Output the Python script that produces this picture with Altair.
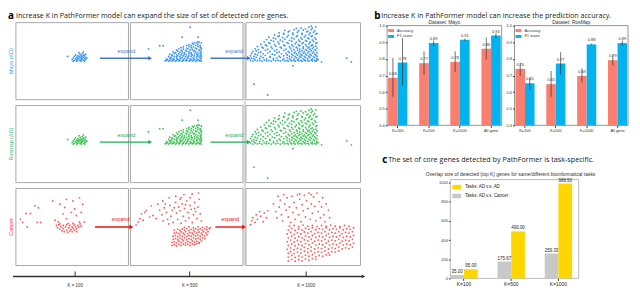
import altair as alt
import pandas as pd

# ---------------- panel a : scatter clouds (panel-local units, 0-100) ----------------
MAYO_K100 = ("50,52 51,54 52,51 52,56 53,53 53,58 54,52 54,55 55,51 55,54 55,57 56,53 56,56 57,51 "
             "57,55 57,59 58,52 58,54 58,57 59,53 59,56 59,60 60,51 60,55 60,58 61,53 61,57 62,52 "
             "62,55 62,59 63,54 51,50 54,50 58,50 61,50 46,56 56,61 60,62")
MAYO_K500 = ("31,50.5 32,51 34,50 35,51 37,50.5 38,51 40,50 41,51 43,50.5 44,51 46,50 47,51 49,50.5 50,51 "
             "52,50 53,51 55,50.5 56,51 58,50 59,51 61,50.5 62,51 63,50 "
             "32,53 33,52 35,54 36,52.5 38,53.5 39,52 41,54 42,52.5 44,53 45,54 47,52 48,53.5 50,52.5 51,54 "
             "53,53 54,52 56,53.5 57,52.5 59,54 60,52 62,53 63,54 "
             "34,56 36,55 37,57 39,56 41,55.5 42,57 44,56 46,55 47,57 49,56 51,55.5 52,57 54,56 56,55 57,57 "
             "59,56 61,55.5 62,57 63,56 "
             "35,59 37,58 39,60 41,58.5 43,59.5 45,58 46,60 48,59 50,58.5 52,60 54,59 55,58 57,60 59,59 60,58 "
             "62,60 63,58.5 "
             "38,62 40,61 42,63 44,61.5 46,62.5 48,61 50,63 52,62 54,61 56,63 58,62 60,61 62,63 63,61.5 "
             "41,64.5 43,66 45,64 47,65.5 49,64 51,66 53,64.5 55,65.5 57,64 59,66 61,64.5 63,65.5 "
             "45,67.5 47,68.5 50,67 52,69 54,67.5 56,68.5 58,67 60,69 62,68 63,67 "
             "50,70.5 52,71.5 54,70 56,72 58,70.5 60,71.5 62,70 "
             "55,73 57,74 59,73.5 61,74.5 63,73.5 60,75 "
             "53,94 46,81 60,81 26,70 29,70 16,66")
MAYO_K1000 = ("4,51 6,50 8,51.5 10,50.5 12,51 14,50 16,51.5 18,50.5 20,51 22,50 24,51.5 26,50.5 28,51 30,50 "
              "32,51.5 34,50.5 36,51 37,50 39,51.5 40,50.5 42,51 43,50 45,51.5 46,50.5 48,51 49,50 51,51.5 "
              "52,50.5 54,51 55,50 57,51.5 58,50.5 60,51 61,50 62,51.5 "
              "5,54 7,53 9,55 12,53.5 15,54.5 18,53 21,55 24,53.5 27,54 30,55 33,53 36,54.5 38,53.5 40,55 "
              "42,53 44,54.5 46,53.5 48,55 50,53 52,54.5 54,53.5 56,55 58,53 60,54.5 62,53.5 "
              "4,57 7,56 10,58 13,56.5 17,57.5 21,56 25,58 29,56.5 33,57 36,58 38,56.5 41,57.5 43,56 45,58 "
              "47,56.5 49,57.5 51,56 53,58 55,56.5 57,57.5 59,56 61,58 62,56.5 "
              "5,60 8,59 11,61 15,59.5 19,60.5 23,59 27,61 31,59.5 35,60 38,61 40,59 42,60.5 44,59.5 46,61 "
              "48,59 50,60.5 52,59.5 54,61 56,59 58,60.5 60,59.5 62,61 "
              "6,62.5 9,63.5 13,62 17,64 21,62.5 25,63.5 29,62 33,64 37,62.5 40,63.5 43,62 45,64 47,62.5 "
              "49,63.5 51,62 53,64 55,62.5 57,63.5 59,62 61,64 "
              "8,66 11,65 15,67 19,65.5 23,66.5 27,65 31,67 35,65.5 39,66.5 42,65 45,67 47,65.5 50,66.5 "
              "52,65 54,67 56,65.5 58,66.5 60,65 62,67 "
              "10,69 14,68 18,70 22,68.5 26,69.5 30,68 34,70 38,68.5 41,69.5 44,68 47,70 50,68.5 53,69.5 "
              "55,68 57,70 59,68.5 61,69.5 "
              "13,72 17,71 21,73 25,71.5 29,72.5 33,71 37,73 40,71.5 43,72.5 46,71 49,73 52,71.5 55,72.5 "
              "58,71 61,73 "
              "16,75 20,74 24,76 28,74.5 32,75.5 36,74 40,76 44,74.5 47,75.5 50,74 53,76 56,74.5 59,75.5 62,74 "
              "18,78 22,77 26,79 30,77.5 34,78.5 38,77 42,79 46,77.5 49,78.5 52,77 55,79 58,77.5 61,78.5 "
              "20,81 24,80 28,82 32,80.5 36,81.5 40,80 44,82 48,80.5 51,81.5 54,80 57,82 60,80.5 "
              "25,84 29,83 33,85 37,83.5 41,84.5 45,83 49,85 52,83.5 55,84.5 58,83 61,85 "
              "29,87 33,86 37,88 41,86.5 45,87.5 49,86 53,88 56,86.5 59,87.5 62,86 "
              "34,90 38,89 42,91 46,89.5 50,90.5 54,89 57,91 60,89.5 "
              "44,92.5 48,93 52,92 55,94 58,93 61,94.5 57,95.5 "
              "7,20 19,6 63,52 66,49 41,44 88,54 92,49")
# the Rosmap row shows the same cloud shapes as the Mayo row
ROSMAP_K100 = MAYO_K100
ROSMAP_K500 = MAYO_K500
ROSMAP_K1000 = MAYO_K1000
CANCER_K100 = ("4,60 6,56 9,67.5 13,67.5 17,77.5 20,75 19,56 22,56 10,50 "
               "32.8,83.8 39.1,79.6 44.9,85.9 50.7,83.8 56.5,87.9 59.4,79.6 43.5,75.4 52.2,73.4 42,67.1 "
               "49.3,69.1 58,69.1 53.7,65 60.9,56.6 56.5,56.6 34.8,58.8 37.7,56.6 44.9,60.9 46.4,54.6 50.7,54.6 "
               "36,52 37,49 38,53 39,47 40,50 41,45 42,52 42,48 43,44 44,50 45,46 45,53 46,43 47,49 48,45 "
               "48,52 49,47 50,44 50,50 51,48 52,53 52,46 53,50 54,48 55,52 56,50 57,54 58,51 54,44 39,54")
CANCER_K500 = ("5,52.5 7,56.6 8.4,60.9 9.9,67.1 12.8,69.1 11.3,58.8 14.2,71.3 17.1,62.9 20,65 22.9,60.9 "
               "18.6,77.5 24.3,79.6 "
               "28.7,83.8 34.5,87.9 40.3,90 47.5,92.1 54.8,92.9 60.6,94.1 31,80 44,86 "
               "26,72 28,66 30,75 32,69 33,60 35,78 36,64 37,72 38,56 40,82 41,68 42,60 43,76 44,71 45,55 "
               "46,80 47,64 48,74 49,58 50,84 51,69 52,62 53,78 54,73 55,56 56,66 57,82 58,70 59,61 60,76 "
               "61,86 62,67 63,58 39,75 45,88 53,88 29,58 34,54 57,74 49,79 "
               "37,26 39,27 41,25.5 43,27.5 45,26 47,28 49,26.5 51,27.5 53,26 55,28 57,27 59,28.5 61,29 "
               "37,30 39,31 41,29.5 43,31.5 45,30 47,32 49,29.5 51,31 53,30 55,32 57,30.5 59,31.5 61,30 63,32 "
               "38,34 40,35 42,33.5 44,35.5 46,34 48,36 50,33.5 52,35 54,34 56,36 58,34.5 60,35.5 62,34 "
               "64,36 66,35 "
               "38,38 40,39 42,37.5 44,39.5 46,38 48,40 50,37.5 52,39 54,38 56,40 58,38.5 60,39.5 62,38 "
               "64,40 66,38.5 68,40 "
               "39,42 41,43 43,41.5 45,43.5 47,42 49,44 51,41.5 53,43 55,42 57,44 59,42.5 61,43.5 63,42 "
               "65,44 67,42.5 69,44 "
               "39,46 42,47 44,45.5 46,47.5 48,46 50,48 52,45.5 54,47 56,46 58,48 60,46.5 62,47.5 64,46 "
               "66,48 68,46.5 70,48 "
               "48,49.5 52,50 56,49 60,50.5 64,49.5 68,50 71,49")
CANCER_K1000 = ("4,53 5,58 6,62 8,56 9,66 10,60 12,70 13,64 15,57 16,68 18,62 19,71 "
                "24,80 26,70 27,62 29,76 30,85 31,66 32,58 34,80 35,72 36,88 37,63 38,76 39,56 40,90 41,69 "
                "42,82 43,60 44,75 45,92 46,66 47,86 48,57 49,79 50,71 51,91 52,63 53,84 54,74 55,94 56,60 "
                "57,80 58,68 59,89 60,77 61,58 62,94 63,70 64,83 65,62 66,76 67,88 68,66 69,57 70,80 72,72 "
                "73,62 28,90 33,92 57,92 47,93 "
                "37,6 40,8 43,5.5 46,7.5 49,6 52,8.5 55,7 58,9 61,8 "
                "37,11 40,13 43,10.5 46,12.5 49,11 52,13.5 55,12 58,14 61,11.5 64,13 67,12 70,14 73,13.5 "
                "37,16 39,18 42,15.5 45,17.5 48,16 51,18.5 54,17 57,19 60,16.5 63,18 66,17 69,19 72,16.5 "
                "75,18 78,17.5 81,19 "
                "36,21 39,23 42,20.5 45,22.5 48,21 51,23.5 54,22 57,24 60,21.5 63,23 66,22 69,24 72,21.5 "
                "75,23 78,22 81,24 84,21.5 87,23 90,22 93,24 "
                "37,26 40,28 43,25.5 46,27.5 49,26 52,28.5 55,27 58,29 61,26.5 64,28 67,27 70,29 73,26.5 "
                "76,28 79,27 82,29 85,26.5 88,28 91,27 94,29 "
                "36,31 39,33 42,30.5 45,32.5 48,31 51,33.5 54,32 57,34 60,31.5 63,33 66,32 69,34 72,31.5 "
                "75,33 78,32 81,34 84,31.5 87,33 90,32 93,34 "
                "37,36 40,38 43,35.5 46,37.5 49,36 52,38.5 55,37 58,39 61,36.5 64,38 67,37 70,39 73,36.5 "
                "76,38 79,37 82,39 85,36.5 88,38 91,37 94,39 "
                "36,41 39,43 42,40.5 45,42.5 48,41 51,43.5 54,42 57,44 60,41.5 63,43 66,42 69,44 72,41.5 "
                "75,43 78,42 81,44 84,41.5 87,43 90,42 93,44 "
                "37,46 40,48 43,45.5 46,47.5 49,46 52,48.5 55,47 58,49 61,46.5 64,48 67,47 70,49 73,46.5 "
                "76,48 79,47 82,49 85,46.5 88,48 91,47 94,49 "
                "38,51 42,52 46,50.5 50,52.5 54,51 58,52 62,50.5 66,52 70,51 74,52.5 78,51 82,50.5 86,52 90,51")
ROW_NAMES = ["Mayo (AD)", "Rosmap (AD)", "Cancer"]
K_LABELS = ["K = 100", "K = 500", "K = 1000"]
TITLE_A = "Increase K in PathFormer model can expand the size of set of detected core genes."

# ---------------- panel b : prediction accuracy ----------------
B_CATS = ["K=100", "K=500", "K=1000", "All gene"]
B_METRICS = ["Accuracy", "F1 score"]
MAYO_ACC = [0.686, 0.774, 0.782, 0.861]
MAYO_ACC_LO = [0.572, 0.703, 0.720, 0.796]
MAYO_ACC_HI = [0.806, 0.845, 0.845, 0.929]
MAYO_F1 = [0.778, 0.895, 0.915, 0.940]
MAYO_F1_LO = [0.638, 0.875, 0.906, 0.925]
MAYO_F1_HI = [0.925, 0.909, 0.921, 0.953]
MAYO_ACC_LBL = ["0.68", "0.77", "0.78", "0.86"]
MAYO_F1_LBL = ["0.78", "0.89", "0.91", "0.94"]
ROS_ACC = [0.740, 0.648, 0.697, 0.792]
ROS_ACC_LO = [0.697, 0.572, 0.657, 0.760]
ROS_ACC_HI = [0.776, 0.727, 0.743, 0.826]
ROS_F1 = [0.653, 0.772, 0.887, 0.895]
ROS_F1_LO = [0.612, 0.707, 0.883, 0.880]
ROS_F1_HI = [0.687, 0.840, 0.891, 0.909]
ROS_ACC_LBL = ["0.74", "0.65", "0.69", "0.79"]
ROS_F1_LBL = ["0.65", "0.77", "0.88", "0.89"]
TITLE_B = "Increase K in PathFormer model can increase the prediction accuracy."

# ---------------- panel c : overlap sizes ----------------
C_CATS = ["K=100", "K=500", "K=1000"]
C_TASKS = ["Tasks: AD v.s. AD", "Tasks: AD v.s. Cancer"]
C_AD = [95.00, 490.00, 988.50]
C_CANCER = [35.00, 175.67, 259.33]
TITLE_C = "The set of core genes detected by PathFormer is task-specific."
SUBTITLE_C = "Overlap size of detected (top K) genes for same/different bioinformatical tasks"

# ---------------- layout (pixels inside the 632x286 drawing) ----------------
W, H = 632, 286
TFONT = "Liberation Sans Narrow, Open Sans, sans-serif"
TSIZE = 7.2
PX = [(8, 122), (124, 238), (241, 357)]
PY = [(13, 91), (97, 175), (181, 259)]
BX = [(384, 500), (513, 628)]
BY = (16, 117)
CX = (448, 578)
CY = (172, 272)
ONE = pd.DataFrame({"d": [0]})


def pts_df(s):
    xs, ys = [], []
    for p in s.split():
        a, b = p.split(",")
        xs.append(float(a))
        ys.append(float(b))
    return pd.DataFrame({"x": xs, "y": ys})


def ann():
    return alt.Chart(ONE)


def txt(text, x, y, color, size, **kw):
    return ann().mark_text(text=text, color=color, fontSize=size, **kw).encode(
        x=alt.value(x), y=alt.value(y))


def frame(x0, x1, y0, y1, stroke, sw=1.0):
    return ann().mark_rect(fill="transparent", stroke=stroke, strokeWidth=sw).encode(
        x=alt.value(x0), x2=alt.value(x1), y=alt.value(y0), y2=alt.value(y1))


def arrow(x1, x2, y, color, sw=1.4, size=20):
    line = ann().mark_rule(color=color, strokeWidth=sw).encode(
        x=alt.value(x1), x2=alt.value(x2 - 3), y=alt.value(y))
    head = ann().mark_point(shape="triangle-right", filled=True, size=size, color=color, opacity=1).encode(
        x=alt.value(x2 - 2), y=alt.value(y))
    return [line, head]


def scatter(s, color, xr, yr):
    return alt.Chart(pts_df(s)).mark_circle(size=3.5, color=color, opacity=0.9).encode(
        x=alt.X("x:Q", scale=alt.Scale(domain=[0, 100], range=[xr[0], xr[1]], nice=False, zero=False),
                axis=None),
        y=alt.Y("y:Q", scale=alt.Scale(domain=[0, 100], range=[yr[1], yr[0]], nice=False, zero=False),
                axis=None))


ROW_DATA = [
    (MAYO_K100, MAYO_K500, MAYO_K1000, "#2a8cf0", "#4a78c8", "#3aa6f0"),
    (ROSMAP_K100, ROSMAP_K500, ROSMAP_K1000, "#2cc04a", "#1fae5a", "#3cc070"),
    (CANCER_K100, CANCER_K500, CANCER_K1000, "#ff4a4a", "#ee1111", "#ff3c3c"),
]
# arrows: (start, end) x for both arrows, arrow y and label y for each row
ARROWS = [((93, 146), (205, 246), 49, 42, 120, 229),
          ((93, 146), (205, 246), 134, 127, 120, 229),
          ((88, 127), (210, 241), 220, 212, 114, 225)]

layers = []
# grey strip between 2nd and 3rd column
layers.append(ann().mark_rect(color="#dcdcdc").encode(
    x=alt.value(238.5), x2=alt.value(241), y=alt.value(PY[0][0]), y2=alt.value(PY[2][1])))
for r, (s1, s2, s3, pc, ac, lc) in enumerate(ROW_DATA):
    y0, y1 = PY[r]
    for c, s in enumerate([s1, s2, s3]):
        layers.append(frame(PX[c][0], PX[c][1], y0, y1, "#a8a8a8"))
        layers.append(scatter(s, pc, PX[c], PY[r]))
    layers.append(txt(ROW_NAMES[r], 3, (y0 + y1) / 2, lc, 5.5, angle=270))
    a1, a2, ay, ly, l1, l2 = ARROWS[r]
    layers += arrow(a1[0], a1[1], ay, ac)
    layers += arrow(a2[0], a2[1], ay, ac)
    layers.append(txt("expand", l1, ly, ac, 5.5))
    layers.append(txt("expand", l2, ly, ac, 5.5))

# bottom K axis of panel a
layers += arrow(5, 362, 270, "#333", sw=1.5, size=16)
for c in range(3):
    cx = (PX[c][0] + PX[c][1]) / 2 + 3
    layers.append(ann().mark_rule(color="#333", strokeWidth=1).encode(
        x=alt.value(cx), y=alt.value(265), y2=alt.value(270)))
    layers.append(txt(K_LABELS[c], cx, 280, "#333", 4.5))

# titles
layers.append(txt("a", 0, 6, "#000", 10, fontWeight="bold", align="left", font=TFONT))
layers.append(txt(TITLE_A, 8, 6, "#222", TSIZE, align="left", font=TFONT))
layers.append(txt("b", 371, 6, "#000", 10, fontWeight="bold", align="left", font=TFONT))
layers.append(txt(TITLE_B, 378, 6, "#222", TSIZE, align="left", font=TFONT))
layers.append(txt("c", 379, 152, "#000", 10, fontWeight="bold", align="left", font=TFONT))
layers.append(txt(TITLE_C, 385, 152, "#222", TSIZE + 0.1, align="left", font=TFONT))
layers.append(txt(SUBTITLE_C, 509, 166, "#333", 5))

# ---------------- panel b ----------------
B_COLORS = ["#fa7f70", "#05b2f0"]
SYM = "M-1,-0.5H1V0.5H-1Z"


def bchart(acc, acc_lo, acc_hi, f1, f1_lo, f1_hi, acc_l, f1_l, xr):
    recs = []
    for i, c in enumerate(B_CATS):
        recs.append(dict(k=c, m=B_METRICS[0], v=acc[i], lo=acc_lo[i], hi=acc_hi[i], lab=acc_l[i]))
        recs.append(dict(k=c, m=B_METRICS[1], v=f1[i], lo=f1_lo[i], hi=f1_hi[i], lab=f1_l[i]))
    df = pd.DataFrame(recs)
    base = alt.Chart(df).encode(
        x=alt.X("k:N", scale=alt.Scale(domain=B_CATS, range=[xr[0], xr[1]], paddingInner=0.38,
                                       paddingOuter=0.03),
                axis=alt.Axis(title=None, orient="bottom", offset=BY[1] - H, labelFontSize=4, labelAngle=0,
                              tickSize=2, domain=False, labelPadding=1, labelColor="#333",
                              tickColor="#333")),
        xOffset=alt.XOffset("m:N", scale=alt.Scale(domain=B_METRICS)))
    yax = alt.Axis(values=[0.4, 0.5, 0.6, 0.7, 0.8, 0.9, 1.0], format=".1f", orient="left", offset=-xr[0],
                   labelFontSize=4, tickSize=2, labelPadding=1, domain=False, grid=False, title=None,
                   labelColor="#333", tickColor="#333")
    bars = base.mark_bar().encode(
        y=alt.Y("v:Q", scale=alt.Scale(domain=[0.4, 1.0], range=[BY[1], BY[0]], nice=False, zero=False),
                axis=yax),
        y2=alt.datum(0.4),
        color=alt.Color("m:N", scale=alt.Scale(domain=B_METRICS, range=B_COLORS),
                        legend=alt.Legend(title=None, orient="none", legendX=xr[0] + 1, legendY=BY[0] + 2,
                                          labelFontSize=4, symbolType=SYM, symbolSize=36,
                                          symbolStrokeWidth=0, rowPadding=1, padding=0, labelOffset=3,
                                          labelColor="#333")))
    err = base.mark_rule(color="#333", strokeWidth=0.7).encode(y="lo:Q", y2="hi:Q")
    lab = base.mark_text(fontSize=4, dy=-4, color="#333").encode(y="v:Q", text="lab:N")
    return alt.layer(bars, err, lab)


layers.append(frame(BX[0][0], BX[0][1], BY[0], BY[1], "#666", 0.7))
layers.append(frame(BX[1][0], BX[1][1], BY[0], BY[1], "#666", 0.7))
layers.append(txt("Dataset: Mayo", sum(BX[0]) / 2, BY[0] - 4, "#333", 5))
layers.append(txt("Dataset: RosMap", sum(BX[1]) / 2, BY[0] - 4, "#333", 5))
layers.append(bchart(MAYO_ACC, MAYO_ACC_LO, MAYO_ACC_HI, MAYO_F1, MAYO_F1_LO, MAYO_F1_HI,
                     MAYO_ACC_LBL, MAYO_F1_LBL, BX[0]))
layers.append(bchart(ROS_ACC, ROS_ACC_LO, ROS_ACC_HI, ROS_F1, ROS_F1_LO, ROS_F1_HI,
                     ROS_ACC_LBL, ROS_F1_LBL, BX[1]))

# ---------------- panel c ----------------
crecs = []
for i, c in enumerate(C_CATS):
    crecs.append(dict(k=c, t=C_TASKS[1], v=C_CANCER[i], lab=f"{C_CANCER[i]:.2f}"))
    crecs.append(dict(k=c, t=C_TASKS[0], v=C_AD[i], lab=f"{C_AD[i]:.2f}"))
cdf = pd.DataFrame(crecs)
cbase = alt.Chart(cdf).encode(
    x=alt.X("k:N", scale=alt.Scale(domain=C_CATS, range=[CX[0], CX[1]], paddingInner=0.42, paddingOuter=0.07,
                                   align=0),
            axis=alt.Axis(title=None, orient="bottom", offset=CY[1] - H, labelFontSize=5, labelAngle=0,
                          tickSize=2, domain=False, labelPadding=1, labelColor="#222", tickColor="#333")),
    xOffset=alt.XOffset("t:N", scale=alt.Scale(domain=[C_TASKS[1], C_TASKS[0]])))
cbars = cbase.mark_bar().encode(
    y=alt.Y("v:Q", scale=alt.Scale(domain=[0, 1030], range=[CY[1], CY[0]], nice=False),
            axis=alt.Axis(values=[0, 200, 400, 600, 800, 1000], format="d", orient="left", offset=-CX[0],
                          labelFontSize=4, tickSize=2, labelPadding=1, domain=False, grid=False, title=None,
                          labelColor="#333", tickColor="#333")),
    color=alt.Color("t:N", scale=alt.Scale(domain=C_TASKS, range=["#ffd700", "#c8c8c8"]),
                    legend=alt.Legend(title=None, orient="none", legendX=CX[0] + 2, legendY=CY[0] + 3,
                                      labelFontSize=4.5, symbolType=SYM, symbolSize=81, symbolStrokeWidth=0,
                                      rowPadding=2, padding=0, labelOffset=4, labelColor="#222")))
clab = cbase.mark_text(fontSize=4.5, dy=-3, color="#222").encode(y="v:Q", text="lab:N")
layers.append(frame(CX[0], CX[1], CY[0], CY[1], "#999", 0.7))
layers.append(alt.layer(cbars, clab))

chart = alt.layer(*layers).resolve_scale(
    x="independent", y="independent", color="independent", xOffset="independent"
).resolve_axis(x="independent", y="independent").resolve_legend(color="independent").properties(
    width=W, height=H, autosize=alt.AutoSizeParams(type="none")
).configure(font="Liberation Sans", padding=0).configure_view(stroke="transparent")

chart.save("out.html", embed_options={"renderer": "svg", "actions": False})
